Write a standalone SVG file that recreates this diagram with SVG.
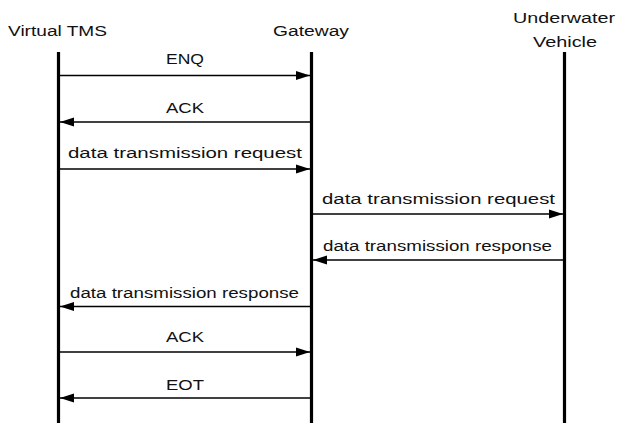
<svg xmlns="http://www.w3.org/2000/svg" width="617" height="423" viewBox="0 0 617 423">
<style>
text{font-family:"Liberation Sans",Arial,sans-serif;font-size:15.5px;fill:#111;}
.life{stroke:#000;stroke-width:3.2;fill:none;}
.msg{stroke:#000;stroke-width:1.3;fill:none;marker-end:url(#ah);}
</style>
<defs>
<marker id="ah" markerUnits="userSpaceOnUse" markerWidth="15" markerHeight="10" refX="14" refY="5" orient="auto">
<path d="M0,0.5 L14,5 L0,9.5 Z" fill="#000"/>
</marker>
</defs>
<rect width="617" height="423" fill="#fff"/>
<g id="virtual-tms">
<text x="8" y="36" textLength="99" lengthAdjust="spacingAndGlyphs">Virtual TMS</text>
<line class="life" x1="58.5" y1="52" x2="58.5" y2="423"/>
</g>
<g id="gateway">
<text x="273" y="36" textLength="76" lengthAdjust="spacingAndGlyphs">Gateway</text>
<line class="life" x1="311.5" y1="52" x2="311.5" y2="423"/>
</g>
<g id="underwater-vehicle">
<text x="513" y="23" textLength="102" lengthAdjust="spacingAndGlyphs">Underwater</text>
<text x="533" y="47" textLength="64" lengthAdjust="spacingAndGlyphs">Vehicle</text>
<line class="life" x1="564.5" y1="52" x2="564.5" y2="423"/>
</g>
<g id="connectors">
<line class="msg" x1="60" y1="75.5" x2="310" y2="75.5"/>
<text x="166" y="64" textLength="38" lengthAdjust="spacingAndGlyphs">ENQ</text>
<line class="msg" x1="310" y1="122" x2="60" y2="122"/>
<text x="166" y="113" textLength="38" lengthAdjust="spacingAndGlyphs">ACK</text>
<line class="msg" x1="60" y1="169" x2="310" y2="169"/>
<text x="68" y="158" textLength="234" lengthAdjust="spacingAndGlyphs">data transmission request</text>
<line class="msg" x1="313" y1="214" x2="563" y2="214"/>
<text x="322" y="204" textLength="233" lengthAdjust="spacingAndGlyphs">data transmission request</text>
<line class="msg" x1="563" y1="260" x2="313" y2="260"/>
<text x="323" y="251" textLength="229" lengthAdjust="spacingAndGlyphs">data transmission response</text>
<line class="msg" x1="310" y1="306.5" x2="60" y2="306.5"/>
<text x="70" y="298" textLength="229" lengthAdjust="spacingAndGlyphs">data transmission response</text>
<line class="msg" x1="60" y1="352" x2="310" y2="352"/>
<text x="166" y="342" textLength="38" lengthAdjust="spacingAndGlyphs">ACK</text>
<line class="msg" x1="310" y1="398" x2="60" y2="398"/>
<text x="166" y="390" textLength="38" lengthAdjust="spacingAndGlyphs">EOT</text>
</g>
</svg>
